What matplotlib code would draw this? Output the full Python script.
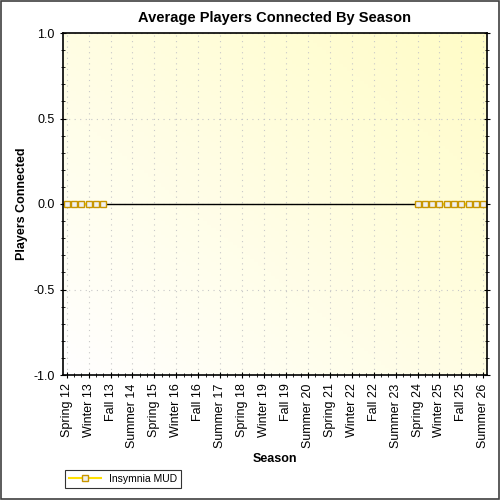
import matplotlib
matplotlib.use("Agg")
import matplotlib.pyplot as plt
import numpy as np
from matplotlib.ticker import MultipleLocator

plt.rcParams['font.family'] = ['Liberation Sans', 'DejaVu Sans']

seasons = ["Spring", "Summer", "Fall", "Winter"]
categories = []
for y in range(12, 27):
    for i, s in enumerate(seasons):
        categories.append(f"{s} {y + 1 if s == 'Winter' else y}")
categories = categories[:58]
values = [0]*6 + [np.nan]*42 + [0]*10

fig = plt.figure(figsize=(5, 5), dpi=100)
fig.patch.set_facecolor("white")
ax = fig.add_axes([0.126, 0.25, 0.848, 0.684])
grad = np.zeros((100, 100, 3))
xx, yy = np.meshgrid(np.linspace(0, 1, 100), np.linspace(0, 1, 100))
t = (xx + yy) / 2
grad[..., 0] = 1
grad[..., 1] = 1 - 0.01 * t
grad[..., 2] = 1 - 0.22 * t
ax.imshow(grad, extent=[-0.5, 57.5, -1, 1], origin="lower", aspect="auto", zorder=0)
ax.set_xlim(-0.5, 57.5)
ax.set_ylim(-1, 1)
x = np.arange(len(categories))
ax.axhline(0, color="black", lw=1, zorder=4)
ax.plot(x, values, color="#FFE000", lw=1.5, marker="s", ms=5, mfc="#F0F0F0",
        mec="#C89600", mew=1, zorder=5, label="Insymnia MUD")
ax.set_xticks(x[::3])
ax.set_xticklabels(categories[::3], rotation=90, fontsize=9)
ax.xaxis.set_minor_locator(MultipleLocator(1))
ax.yaxis.set_minor_locator(MultipleLocator(0.1))
ax.set_yticks([-1, -0.5, 0, 0.5, 1])
ax.set_yticklabels(["-1.0", "-0.5", "0.0", "0.5", "1.0"], fontsize=9)
ax.tick_params(which="major", length=5, direction="inout")
ax.tick_params(which="minor", length=3, direction="inout")
ax.tick_params(axis="y", which="both", right=True)
ax.grid(True, which="major", color="#c8c8c8", ls=(0, (1, 4)), lw=0.8)
ax.set_axisbelow(False)
ax.set_title("Average Players Connected By Season", fontsize=10.5, fontweight="bold", pad=8)
ax.set_xlabel("Season", fontsize=9, fontweight="bold")
ax.set_ylabel("Players Connected", fontsize=9, fontweight="bold")
for sp in ax.spines.values():
    sp.set_linewidth(1.2)
    sp.set_zorder(6)
leg = fig.legend(loc="lower left", bbox_to_anchor=(0.12, 0.013), fontsize=7.5,
                 frameon=True, fancybox=False, edgecolor="black", handlelength=3)
leg.get_frame().set_linewidth(0.8)
fig.add_artist(plt.Rectangle((0.002, 0.002), 0.996, 0.996, transform=fig.transFigure,
                             fill=False, ec="#404040", lw=1.2))
fig.savefig("out.png", dpi=100)
